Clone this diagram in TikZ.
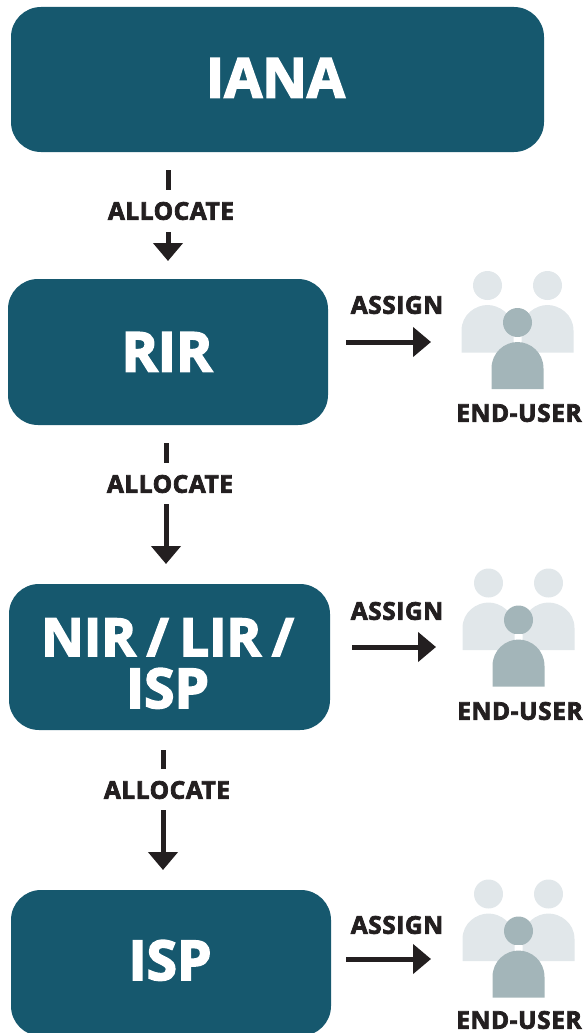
\documentclass[tikz,border=0pt]{standalone}
\usepackage{fontspec}
\setmainfont{Open Sans}
\newfontfamily\labfont{Open Sans}[BoldFeatures={FakeBold=3,LetterSpace=2.2}]
\newfontfamily\bigfont{Open Sans}[BoldFeatures={FakeBold=3}]
\newfontfamily\nirfont{Open Sans}[BoldFeatures={FakeBold=3},WordSpace=0.8]
\usetikzlibrary{arrows.meta}
\definecolor{teal}{HTML}{16586E}
\definecolor{ink}{HTML}{231F20}
\definecolor{lightp}{HTML}{E1E7EA}
\definecolor{midp}{HTML}{A3B5B9}
\tikzset{
  box/.style={fill=teal,rounded corners=30pt,inner sep=0pt,text=white,align=center,font=\bigfont\bfseries\fontsize{55}{52}\selectfont},
  conn/.style={draw=ink,line width=5pt,-{Triangle[width=29pt,length=18pt]}},
  stub/.style={draw=ink,line width=5pt},
  lab/.style={text=ink,inner sep=0pt,font=\labfont\bfseries\fontsize{24.5}{26}\selectfont},
}
\newcommand{\persongroup}[3]{%
  \begin{scope}[shift={(#1,#2)}]
    \fill[lightp] (-30,-37) circle (14.5);
    \fill[lightp] (30,-37) circle (14.5);
    \fill[lightp] (-56,30) -- (-56,8) .. controls (-56,-8) and (-42,-17.5) .. (-30,-17.5) .. controls (-18,-17.5) and (-4,-8) .. (-4,8) -- (-4,30) -- cycle;
    \fill[lightp] (56,30) -- (56,8) .. controls (56,-8) and (42,-17.5) .. (30,-17.5) .. controls (18,-17.5) and (4,-8) .. (4,8) -- (4,30) -- cycle;
    \fill[midp] (0,0) circle (14.5);
    \fill[white] (-3.5,14) rectangle (3.5,22);
    \fill[midp] (-26,66.5) -- (-26,46) .. controls (-26,30) and (-13,19.5) .. (0,19.5) .. controls (13,19.5) and (26,30) .. (26,46) -- (26,66.5) -- cycle;
  \end{scope}}
\begin{document}
\begin{tikzpicture}[x=1pt,y=-1pt]
\useasboundingbox (0,0) rectangle (583,1033);
% boxes
\node[box,minimum width=533pt,minimum height=145pt] (iana) at (277.5,79.5) {\hspace*{-4pt}\raisebox{-18pt}[0pt][0pt]{IANA}};
\node[box,minimum width=320pt,minimum height=146pt] (rir) at (168,352) {\hspace*{-2pt}\raisebox{-19.5pt}[0pt][0pt]{RIR}};
\node[box,minimum width=321pt,minimum height=146pt] (nir) at (169.5,657) {\hspace*{-4pt}\raisebox{-51pt}[0pt][0pt]{\parbox[b]{310pt}{\centering\nirfont\bfseries\fontsize{52.5}{52}\selectfont NIR / LIR /\\\fontsize{55}{52}\selectfont ISP}}};
\node[box,minimum width=320pt,minimum height=146pt] (isp) at (171,963) {\hspace*{-2pt}\raisebox{-17pt}[0pt][0pt]{ISP}};
% allocate connectors
\coordinate (d1a) at (168,170); \coordinate (d1b) at (168,190);
\coordinate (d1c) at (168,232); \coordinate (d1d) at (168,261);
\coordinate (d2a) at (166,443); \coordinate (d2b) at (166,463);
\coordinate (d2c) at (166,504); \coordinate (d2d) at (166,564);
\coordinate (d3a) at (163,750); \coordinate (d3b) at (163,769);
\coordinate (d3c) at (163,810); \coordinate (d3d) at (163,870);
\draw[stub] (d1a) -- (d1b); \draw[conn] (d1c) -- (d1d);
\draw[stub] (d2a) -- (d2b); \draw[conn] (d2c) -- (d2d);
\draw[stub] (d3a) -- (d3b); \draw[conn] (d3c) -- (d3d);
\node[lab] (l1) at (171,211) {ALLOCATE};
\node[lab] (l2) at (170,484) {ALLOCATE};
\node[lab] (l3) at (167,790) {ALLOCATE};
% assign connectors
\coordinate (a1s) at (346,342); \coordinate (a1e) at (431,342);
\coordinate (a2s) at (352,647); \coordinate (a2e) at (436,647);
\coordinate (a3s) at (346,959); \coordinate (a3e) at (431,959);
\draw[conn] (a1s) -- (a1e);
\draw[conn] (a2s) -- (a2e);
\draw[conn] (a3s) -- (a3e);
\node[lab] (s1) at (397,305) {ASSIGN};
\node[lab] (s2) at (397,611) {ASSIGN};
\node[lab] (s3) at (397,925) {ASSIGN};
% people
\persongroup{517.5}{322.5}{}
\persongroup{518.5}{620}{}
\persongroup{518.5}{931}{}
\node[lab] (e1) at (519,413) {END-USER};
\node[lab] (e2) at (520,711) {END-USER};
\node[lab] (e3) at (519,1020) {END-USER};
\end{tikzpicture}
\end{document}
